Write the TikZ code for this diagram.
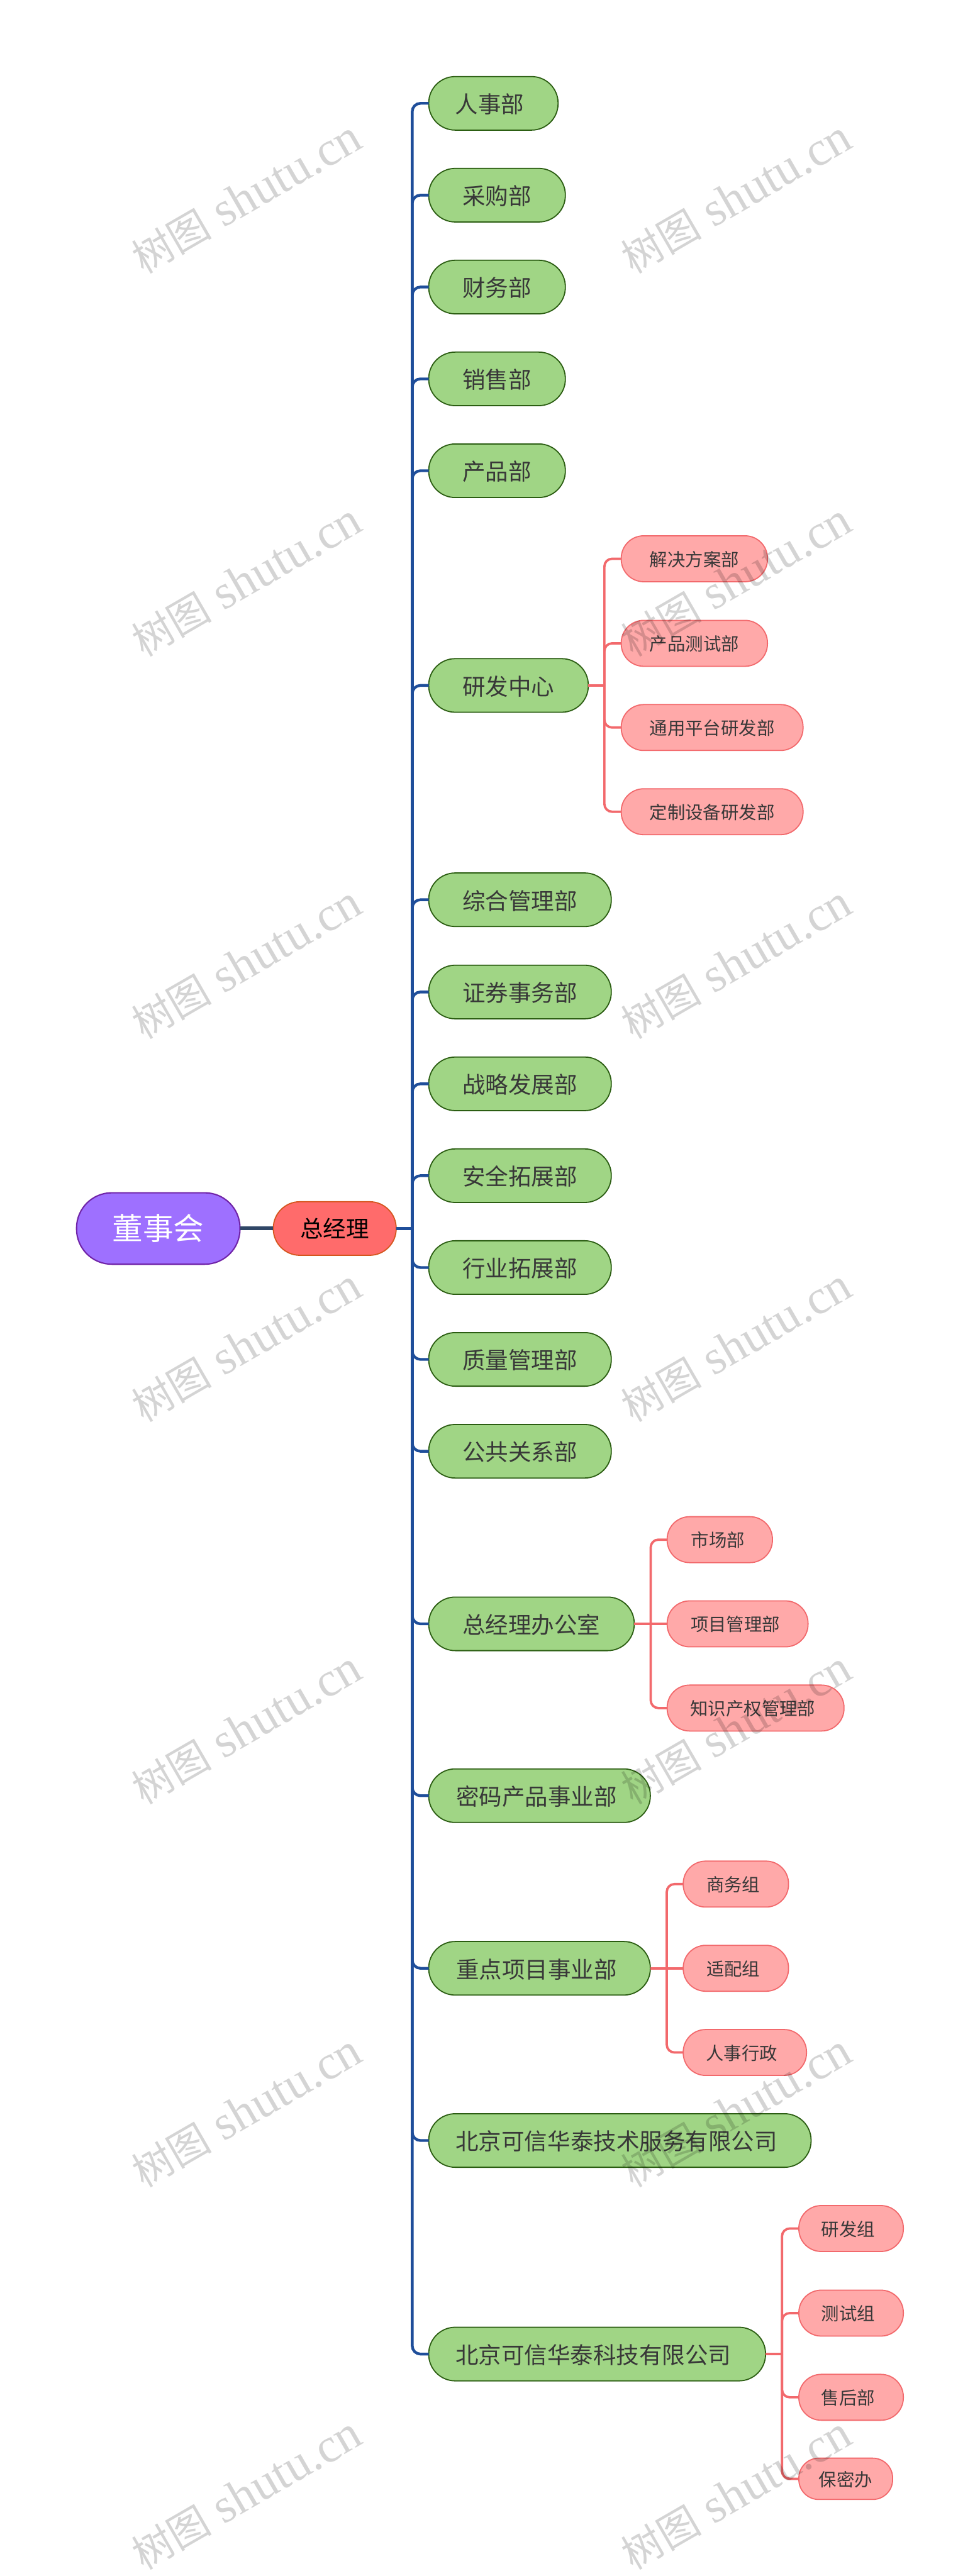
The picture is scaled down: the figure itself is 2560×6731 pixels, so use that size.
\documentclass[tikz,border=0pt]{standalone}
\usepackage{fontspec}
\setmainfont{Noto Sans CJK SC}
\newfontfamily\wmlatin{Liberation Serif}
\usepackage{tikz}
\definecolor{rootfill}{HTML}{9E70FF}
\definecolor{rootedge}{HTML}{7024A8}
\definecolor{mgrfill}{HTML}{FF6B6B}
\definecolor{mgredge}{HTML}{D4551C}
\definecolor{deptfill}{HTML}{A0D585}
\definecolor{deptedge}{HTML}{2B5D12}
\definecolor{subfill}{HTML}{FFA9A9}
\definecolor{subedge}{HTML}{F2696C}
\definecolor{bluelink}{HTML}{1F4E9A}
\definecolor{darklink}{HTML}{2F4666}
\definecolor{labeltext}{HTML}{383838}
\newcommand{\wmlabel}{{\fontsize{79}{90}\selectfont 树图}{\wmlatin\fontsize{95}{110}\selectfont\ shutu.cn}}
\tikzset{
  boxw/.style={minimum width=#1*0.75pt},
  txtshift/.style={execute at end node={\kern#1pt}},
  rootbox/.style={rectangle,draw=rootedge,fill=rootfill,line width=2.6pt,rounded corners=69pt,minimum height=140pt,inner sep=0pt,outer sep=0pt,anchor=west,text=white,font=\fontsize{60}{72}\selectfont},
  mgrbox/.style={rectangle,draw=mgredge,fill=mgrfill,line width=2.2pt,rounded corners=52pt,minimum height=105pt,inner sep=0pt,outer sep=0pt,anchor=west,text=black,font=\fontsize{45}{54}\selectfont},
  deptbox/.style={rectangle,draw=deptedge,fill=deptfill,line width=2.2pt,rounded corners=52pt,minimum height=105pt,inner sep=0pt,outer sep=0pt,anchor=west,text=labeltext,text height=43pt,text depth=5pt,font=\fontsize{45}{54}\selectfont},
  subbox/.style={rectangle,draw=subedge,fill=subfill,line width=2.2pt,rounded corners=44pt,minimum height=90pt,inner sep=0pt,outer sep=0pt,anchor=west,text=labeltext,text height=34pt,text depth=5pt,font=\fontsize{35}{42}\selectfont},
  rootlink/.style={draw=darklink,line width=7.6pt},
  deptlink/.style={draw=bluelink,line width=5.4pt,rounded corners=16pt},
  sublink/.style={draw=subedge,line width=4.6pt,rounded corners=15pt},
  wmtext/.style={text=black,text opacity=0.17,rotate=30,inner sep=0pt}
}
\begin{document}
\begin{tikzpicture}[x=0.75pt,y=0.75pt,yscale=-1]
  \useasboundingbox (0,0) rectangle (2560,6731);

  %Rounded Rect: top of the tree
  \node[rootbox,boxw=427] (board) at (200,3210) {董事会};
  \node[mgrbox,boxw=321] (mgr) at (714,3210) {总经理};
  \coordinate (mgrhub) at (1077,3210);

  %Rounded Rect: departments
  \node[deptbox,boxw=338,txtshift=15] (hr) at (1120,270) {人事部};
  \node[deptbox,boxw=357] (purchase) at (1120,510) {采购部};
  \node[deptbox,boxw=357] (finance) at (1120,750) {财务部};
  \node[deptbox,boxw=357] (sales) at (1120,990) {销售部};
  \node[deptbox,boxw=357] (product) at (1120,1230) {产品部};
  \node[deptbox,boxw=417] (rnd) at (1120,1791) {研发中心};
  \node[deptbox,boxw=477] (general) at (1120,2351) {综合管理部};
  \node[deptbox,boxw=477] (securities) at (1120,2592) {证券事务部};
  \node[deptbox,boxw=477] (strategy) at (1120,2832) {战略发展部};
  \node[deptbox,boxw=477] (safety) at (1120,3072) {安全拓展部};
  \node[deptbox,boxw=477] (industry) at (1120,3312) {行业拓展部};
  \node[deptbox,boxw=477] (quality) at (1120,3552) {质量管理部};
  \node[deptbox,boxw=477] (public) at (1120,3792) {公共关系部};
  \node[deptbox,boxw=537] (office) at (1120,4243) {总经理办公室};
  \node[deptbox,boxw=579,txtshift=12] (crypto) at (1120,4692) {密码产品事业部};
  \node[deptbox,boxw=579,txtshift=12] (keyproj) at (1120,5143) {重点项目事业部};
  \node[deptbox,boxw=999,txtshift=13.5] (service) at (1120,5593) {北京可信华泰技术服务有限公司};
  \node[deptbox,boxw=880,txtshift=15] (tech) at (1120,6151) {北京可信华泰科技有限公司};

  %Rounded Rect: groups under 研发中心
  \coordinate (rndhub) at (1579,1791);
  \node[subbox,boxw=382] (solution) at (1623,1460) {解决方案部};
  \node[subbox,boxw=382] (testing) at (1623,1681) {产品测试部};
  \node[subbox,boxw=475] (platform) at (1623,1901) {通用平台研发部};
  \node[subbox,boxw=475] (custom) at (1623,2121) {定制设备研发部};

  %Rounded Rect: groups under 总经理办公室
  \coordinate (officehub) at (1700,4243);
  \node[subbox,boxw=275,txtshift=7.5] (market) at (1743,4023) {市场部};
  \node[subbox,boxw=368,txtshift=9] (projmgmt) at (1743,4243) {项目管理部};
  \node[subbox,boxw=462,txtshift=10.5] (patent) at (1743,4463) {知识产权管理部};

  %Rounded Rect: groups under 重点项目事业部
  \coordinate (keyhub) at (1742,5143);
  \node[subbox,boxw=275,txtshift=10.5] (business) at (1785,4923) {商务组};
  \node[subbox,boxw=275,txtshift=10.5] (adapt) at (1785,5143) {适配组};
  \node[subbox,boxw=322,txtshift=12] (admin) at (1785,5363) {人事行政};

  %Rounded Rect: groups under 北京可信华泰科技有限公司
  \coordinate (techhub) at (2043,6151);
  \node[subbox,boxw=273,txtshift=12] (devgroup) at (2087,5823) {研发组};
  \node[subbox,boxw=273,txtshift=12] (testgroup) at (2087,6044) {测试组};
  \node[subbox,boxw=273,txtshift=12] (aftersale) at (2087,6264) {售后部};
  \node[subbox,boxw=245,minimum height=81pt,rounded corners=39pt] (secrecy) at (2087,6477) {保密办};

  %Straight Lines
  \draw[rootlink] (board.east) -- (mgr.west);
  \draw[deptlink] (mgr.east) -- (mgrhub);
  \draw[sublink] (rnd.east) -- (rndhub);
  \draw[sublink] (office.east) -- (projmgmt.west);
  \draw[sublink] (keyproj.east) -- (adapt.west);
  \draw[sublink] (tech.east) -- (techhub);

  %Curve Lines: trunk to departments
  \draw[deptlink] (mgrhub) |- (hr.west);
  \draw[deptlink] (mgrhub) |- (purchase.west);
  \draw[deptlink] (mgrhub) |- (finance.west);
  \draw[deptlink] (mgrhub) |- (sales.west);
  \draw[deptlink] (mgrhub) |- (product.west);
  \draw[deptlink] (mgrhub) |- (rnd.west);
  \draw[deptlink] (mgrhub) |- (general.west);
  \draw[deptlink] (mgrhub) |- (securities.west);
  \draw[deptlink] (mgrhub) |- (strategy.west);
  \draw[deptlink] (mgrhub) |- (safety.west);
  \draw[deptlink] (mgrhub) |- (industry.west);
  \draw[deptlink] (mgrhub) |- (quality.west);
  \draw[deptlink] (mgrhub) |- (public.west);
  \draw[deptlink] (mgrhub) |- (office.west);
  \draw[deptlink] (mgrhub) |- (crypto.west);
  \draw[deptlink] (mgrhub) |- (keyproj.west);
  \draw[deptlink] (mgrhub) |- (service.west);
  \draw[deptlink] (mgrhub) |- (tech.west);

  %Curve Lines: departments to groups
  \draw[sublink] (rndhub) |- (solution.west);
  \draw[sublink] (rndhub) |- (testing.west);
  \draw[sublink] (rndhub) |- (platform.west);
  \draw[sublink] (rndhub) |- (custom.west);
  \draw[sublink] (officehub) |- (market.west);
  \draw[sublink] (officehub) |- (patent.west);
  \draw[sublink] (keyhub) |- (business.west);
  \draw[sublink] (keyhub) |- (admin.west);
  \draw[sublink] (techhub) |- (devgroup.west);
  \draw[sublink] (techhub) |- (testgroup.west);
  \draw[sublink] (techhub) |- (aftersale.west);
  \draw[sublink] (techhub) |- (secrecy.west);

  %Text Node: watermark
  \node[wmtext] (wmla) at (644,516) {\wmlabel};
  \node[wmtext] (wmlb) at (644,1516) {\wmlabel};
  \node[wmtext] (wmlc) at (644,2516) {\wmlabel};
  \node[wmtext] (wmld) at (644,3516) {\wmlabel};
  \node[wmtext] (wmle) at (644,4516) {\wmlabel};
  \node[wmtext] (wmlf) at (644,5516) {\wmlabel};
  \node[wmtext] (wmlg) at (644,6516) {\wmlabel};
  \node[wmtext] (wmra) at (1924,516) {\wmlabel};
  \node[wmtext] (wmrb) at (1924,1516) {\wmlabel};
  \node[wmtext] (wmrc) at (1924,2516) {\wmlabel};
  \node[wmtext] (wmrd) at (1924,3516) {\wmlabel};
  \node[wmtext] (wmre) at (1924,4516) {\wmlabel};
  \node[wmtext] (wmrf) at (1924,5516) {\wmlabel};
  \node[wmtext] (wmrg) at (1924,6516) {\wmlabel};
\end{tikzpicture}
\end{document}
